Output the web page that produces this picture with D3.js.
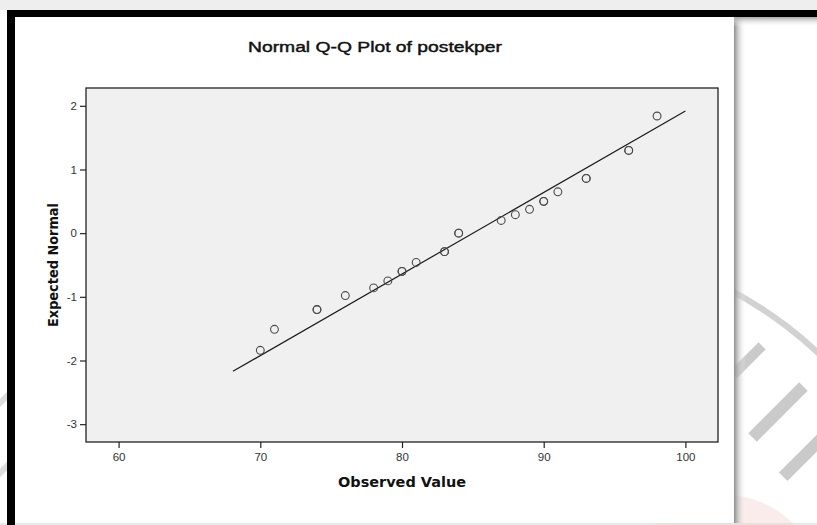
<!DOCTYPE html>
<html>
<head>
<meta charset="utf-8">
<script src="https://cdn.jsdelivr.net/npm/d3@7"></script>
<style>
  html, body { margin: 0; padding: 0; background: #ffffff; }
  svg { display: block; }
</style>
</head>
<body>
<svg id="chart" width="817" height="525"></svg>
<script>
// ---- data ----
const observed = [70, 71, 74, 74, 76, 78, 79, 80, 80, 81, 83, 83, 84, 84, 87, 88, 89, 90, 90, 91, 93, 93, 96, 96, 98];
const expected = [-1.84, -1.51, -1.20, -1.20, -0.98, -0.86, -0.75, -0.60, -0.60, -0.46, -0.29, -0.29, 0.00, 0.00,
                  0.20, 0.29, 0.375, 0.50, 0.50, 0.65, 0.86, 0.86, 1.30, 1.30, 1.84];
const lineObserved = [68.07, 100];
const lineExpected = [-2.17, 1.92];
const xTicks = [60, 70, 80, 90, 100];
const yTicks = [-3, -2, -1, 0, 1, 2];
const xDomain = [57.7, 102.3];
const yDomain = [-3.28, 2.28];
const titleText = "Normal Q-Q Plot of postekper";
const xLabel = "Observed Value";
const yLabel = "Expected Normal";

const svg = d3.select("#chart");
const FONT = "'Liberation Sans', Arial, sans-serif";
const LABELFONT = "'DejaVu Sans', Verdana, sans-serif";

// ---- background / frame decorations ----
const defs = svg.append("defs");
const shR = defs.append("linearGradient").attr("id", "shR").attr("x1", 0).attr("x2", 1).attr("y1", 0).attr("y2", 0);
shR.append("stop").attr("offset", "0%").attr("stop-color", "#8c8c8c");
shR.append("stop").attr("offset", "100%").attr("stop-color", "#ffffff").attr("stop-opacity", 0);
const shT = defs.append("linearGradient").attr("id", "shT").attr("x1", 0).attr("x2", 0).attr("y1", 0).attr("y2", 1);
shT.append("stop").attr("offset", "0%").attr("stop-color", "#a8a8a8");
shT.append("stop").attr("offset", "100%").attr("stop-color", "#ffffff").attr("stop-opacity", 0);

svg.append("rect").attr("x", 0).attr("y", 0).attr("width", 817).attr("height", 525).attr("fill", "#ffffff");
svg.append("rect").attr("x", 0).attr("y", 0).attr("width", 817).attr("height", 10).attr("fill", "#eeeeee");
svg.append("rect").attr("x", 0).attr("y", 523).attr("width", 817).attr("height", 2).attr("fill", "#e8e8e8");

// watermark pieces on the right side
const wm = svg.append("g");
wm.append("circle").attr("cx", 725).attr("cy", 590).attr("r", 95).attr("fill", "#f6d0d0").attr("opacity", 0.4);
wm.append("path")
  .attr("d", d3.arc()({innerRadius: 404, outerRadius: 410, startAngle: 0.35, endAngle: 0.95}))
  .attr("transform", "translate(540,650)")
  .attr("fill", "#d2d2d2");
[[748, 360, 10, 40], [778, 412, 12, 72], [815, 445, 12, 90]].forEach(d => {
  wm.append("rect")
    .attr("x", -d[2] / 2).attr("y", -d[3] / 2).attr("width", d[2]).attr("height", d[3])
    .attr("transform", `translate(${d[0]},${d[1]}) rotate(45)`)
    .attr("fill", "#cacaca");
});
// faint watermark strokes on the far left
[[3, 400], [3, 470]].forEach(d => {
  wm.append("rect").attr("x", -3).attr("y", -20).attr("width", 6).attr("height", 40)
    .attr("transform", `translate(${d[0]},${d[1]}) rotate(45)`).attr("fill", "#dddddd");
});

// white panel and shadow
svg.append("rect").attr("x", 734).attr("y", 17).attr("width", 12).attr("height", 506).attr("fill", "url(#shR)");
svg.append("rect").attr("x", 734).attr("y", 17).attr("width", 83).attr("height", 10).attr("fill", "url(#shT)");
svg.append("rect").attr("x", 15).attr("y", 17).attr("width", 719).attr("height", 506).attr("fill", "#ffffff");
// black frame
svg.append("rect").attr("x", 7).attr("y", 10).attr("width", 810).attr("height", 7).attr("fill", "#000000");
svg.append("rect").attr("x", 7).attr("y", 10).attr("width", 8).attr("height", 515).attr("fill", "#000000");

// ---- plot ----
const pLeft = 86, pRight = 718, pTop = 88, pBottom = 442;
const x = d3.scaleLinear().domain(xDomain).range([pLeft, pRight]);
const y = d3.scaleLinear().domain(yDomain).range([pBottom, pTop]);

svg.append("rect").attr("x", pLeft).attr("y", pTop).attr("width", pRight - pLeft).attr("height", pBottom - pTop)
  .attr("fill", "#f0f0f0");

// reference line
svg.append("path")
  .datum(lineObserved.map((v, i) => [v, lineExpected[i]]))
  .attr("d", d3.line().x(d => x(d[0])).y(d => y(d[1])))
  .attr("fill", "none").attr("stroke", "#1a1a1a").attr("stroke-width", 1.2);

// points
svg.append("g").selectAll("circle")
  .data(observed.map((v, i) => ({o: v, e: expected[i]})))
  .join("circle")
  .attr("cx", d => x(d.o)).attr("cy", d => y(d.e)).attr("r", 3.9)
  .attr("fill", "none").attr("stroke", "#4a4a4a").attr("stroke-width", 1.1);

// frame
svg.append("rect").attr("x", pLeft).attr("y", pTop).attr("width", pRight - pLeft).attr("height", pBottom - pTop)
  .attr("fill", "none").attr("stroke", "#222222").attr("stroke-width", 1.3);

// axes
const xAxis = svg.append("g").attr("transform", `translate(0,${pBottom})`)
  .call(d3.axisBottom(x).tickValues(xTicks).tickSize(6).tickPadding(5).tickFormat(d => String(d)));
const yAxis = svg.append("g").attr("transform", `translate(${pLeft},0)`)
  .call(d3.axisLeft(y).tickValues(yTicks).tickSize(6).tickPadding(3).tickFormat(d => String(d)));
[xAxis, yAxis].forEach(g => {
  g.select(".domain").remove();
  g.selectAll(".tick line").attr("stroke", "#222222").attr("stroke-width", 1.2);
  g.selectAll(".tick text").attr("fill", "#333333").style("font-family", FONT).style("font-size", "11.5px");
});

// titles
svg.append("text").attr("x", 375).attr("y", 52).attr("text-anchor", "middle")
  .style("font-family", FONT).style("font-size", "15.5px").attr("fill", "#111111")
  .attr("stroke", "#111111").attr("stroke-width", 0.45)
  .attr("textLength", 254).attr("lengthAdjust", "spacingAndGlyphs")
  .text(titleText);
svg.append("text").attr("x", 402).attr("y", 487).attr("text-anchor", "middle")
  .style("font-family", LABELFONT).style("font-size", "13.7px").style("font-weight", "bold").attr("fill", "#111111")
  .attr("textLength", 128).attr("lengthAdjust", "spacingAndGlyphs")
  .text(xLabel);
svg.append("text").attr("transform", "translate(58,265) rotate(-90)").attr("text-anchor", "middle")
  .style("font-family", LABELFONT).style("font-size", "13.7px").style("font-weight", "bold").attr("fill", "#111111")
  .attr("textLength", 124).attr("lengthAdjust", "spacingAndGlyphs")
  .text(yLabel);
</script>
</body>
</html>
